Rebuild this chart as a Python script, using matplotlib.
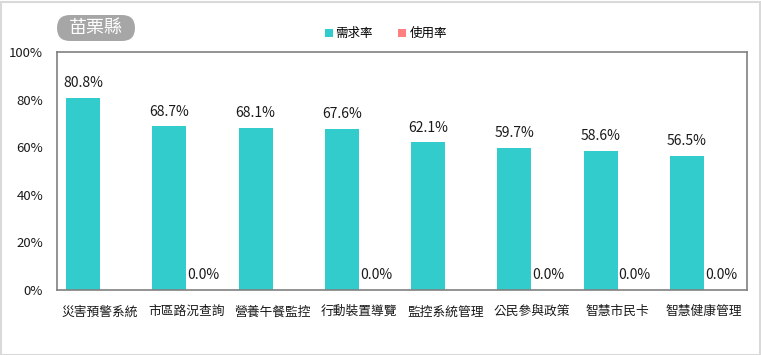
import numpy as np
import matplotlib.pyplot as plt
from matplotlib.patches import FancyBboxPatch, Rectangle
from matplotlib.transforms import IdentityTransform

plt.rcParams['font.family'] = ['Noto Sans CJK TC', 'DejaVu Sans']

categories = ["災害預警系統", "市區路況查詢", "營養午餐監控", "行動裝置導覽",
              "監控系統管理", "公民參與政策", "智慧市民卡", "智慧健康管理"]
demand = [80.8, 68.7, 68.1, 67.6, 62.1, 59.7, 58.6, 56.5]
usage = [None, 0.0, None, 0.0, None, 0.0, 0.0, 0.0]
yticks = [0, 20, 40, 60, 80, 100]

teal = "#33CCCC"
pink = "#FF8080"

fig = plt.figure(figsize=(7.61, 3.55), dpi=100)
ax = fig.add_axes([57 / 761, 1 - 290 / 355, 690 / 761, 238 / 355])

x = np.arange(len(categories))
w = 0.394
ax.bar(x - w / 2, demand, w, color=teal)
use_vals = [u if u is not None else 0 for u in usage]
ax.bar(x + w / 2, use_vals, w, color=pink)

for xi, v in zip(x, demand):
    ax.annotate(f"{v:.1f}%", (xi - w / 2, v), xytext=(0, 5.5), textcoords="offset points",
                ha="center", va="bottom", fontsize=10, color="#1a1a1a")
for xi, u in zip(x, usage):
    if u is not None:
        ax.annotate(f"{u:.1f}%", (xi + w / 2, u), xytext=(0, 6), textcoords="offset points",
                    ha="center", va="bottom", fontsize=10, color="#1a1a1a")

ax.set_xlim(-0.5, len(categories) - 0.5)
ax.set_ylim(0, 100)
ax.set_yticks(yticks)
ax.set_yticklabels([f"{t}%" for t in yticks], fontsize=9.5, color="#1a1a1a")
ax.set_xticks(x)
ax.set_xticklabels(categories, fontsize=9.2, color="#1a1a1a")
ax.tick_params(length=0)
ax.tick_params(axis="x", pad=11)
ax.tick_params(axis="y", pad=10)
for s in ax.spines.values():
    s.set_color("#808080")
    s.set_linewidth(1.2)

# title badge (pixel coordinates)
badge = FancyBboxPatch((57, 355 - 41), 78, 26,
                       boxstyle="round,pad=0,rounding_size=13",
                       transform=IdentityTransform(), facecolor="#a6a6a6", edgecolor="none")
fig.patches.append(badge)
fig.text(96 / 761, 1 - 28 / 355, "苗栗縣", color="white", fontsize=13,
         ha="center", va="center")

# legend
fig.patches.append(Rectangle((325 / 761, 1 - 37 / 355), 8 / 761, 8 / 355,
                             transform=fig.transFigure, facecolor=teal, edgecolor="none"))
fig.text(335 / 761, 1 - 33 / 355, "需求率", fontsize=9, va="center", ha="left")
fig.patches.append(Rectangle((398 / 761, 1 - 37 / 355), 8 / 761, 8 / 355,
                             transform=fig.transFigure, facecolor=pink, edgecolor="none"))
fig.text(410 / 761, 1 - 33 / 355, "使用率", fontsize=9, va="center", ha="left")

# outer border
fig.patches.append(Rectangle((0.5 / 761, 0.5 / 355), 759 / 761, 353 / 355,
                             transform=fig.transFigure, facecolor="none",
                             edgecolor="#d9d9d9", linewidth=1.5))

fig.savefig("out.png", dpi=100)
